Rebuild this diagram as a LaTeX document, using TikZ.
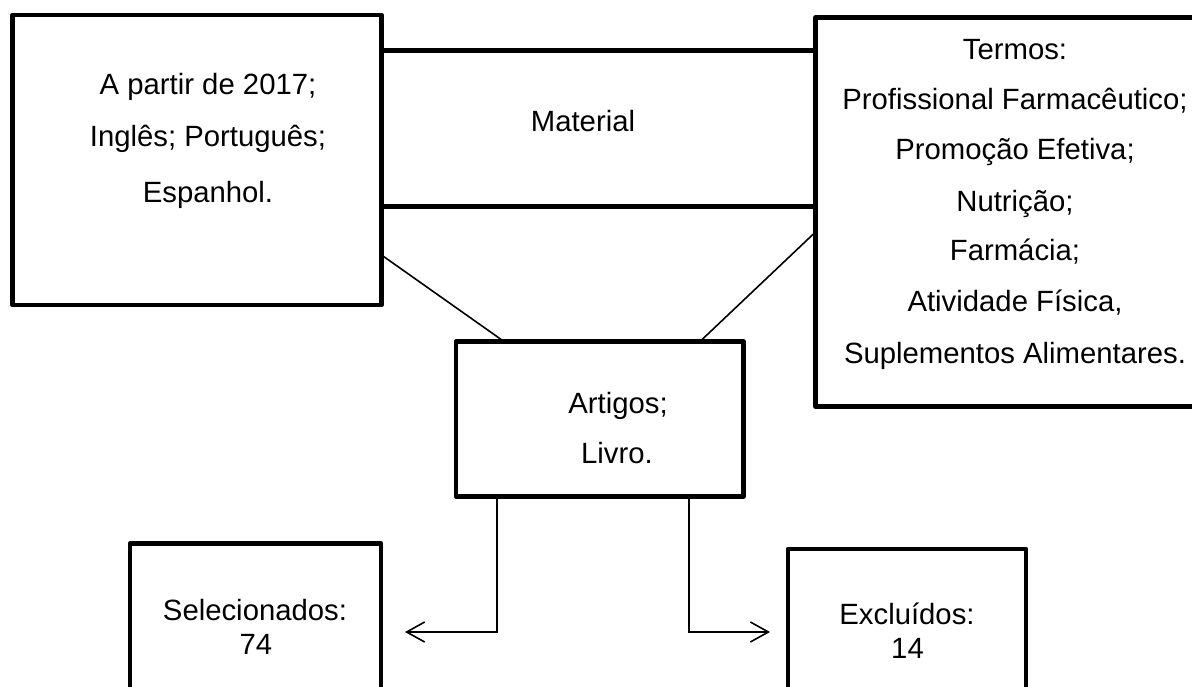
\documentclass[tikz,border=0pt]{standalone}
\usepackage{fontspec}
\setmainfont{Liberation Sans}
\usetikzlibrary{arrows.meta,calc}
\begin{document}
\begin{tikzpicture}[x=1pt,y=-1pt,
  box/.style={draw, line width=4.5pt, inner sep=0pt, outer sep=0pt, line join=round},
  txt/.style={anchor=base, inner sep=0pt, font=\fontsize{29.3}{34}\selectfont},
  thinline/.style={line width=1.6pt},
  conn/.style={line width=2pt, -{Straight Barb[length=18pt,width=20pt,line width=1.6pt]}}]
\useasboundingbox (0,0) rectangle (1192,687);
\clip (0,0) rectangle (1192,687);
\fill[white] (0,0) rectangle (1192,687);
% boxes
\node[box, minimum width=369pt, minimum height=290pt] (left) at (197,160) {};
\node[box, minimum width=434.5pt, minimum height=156pt] (mat) at (598.75,128.5) {};
\node[box, minimum width=444.5pt, minimum height=389pt] (right) at (1037.75,212) {};
\node[box, minimum width=287.5pt, minimum height=155pt] (art) at (599.75,419) {};
\node[box, minimum width=251pt, minimum height=176.5pt] (sel) at (255.5,631.75) {};
\node[box, minimum width=238pt, minimum height=171pt] (exc) at (907,634.5) {};
% texts
\node[txt] (l1) at (208,95) {A partir de 2017;};
\node[txt] (l2) at (208,147) {Inglês; Português;};
\node[txt] (l3) at (208,203) {Espanhol.};
\node[txt] (m1) at (583,132) {Material};
\node[txt] (r1) at (1015,60) {Termos:};
\node[txt] (r2) at (1015,110) {Profissional Farmacêutico;};
\node[txt] (r3) at (1015,160) {Promoção Efetiva;};
\node[txt] (r4) at (1015,211.5) {Nutrição;};
\node[txt] (r5) at (1015,261) {Farmácia;};
\node[txt] (r6) at (1015,312) {Atividade Física,};
\node[txt] (r7) at (1015,363) {Suplementos Alimentares.};
\node[txt] (a1) at (618,413) {Artigos;};
\node[txt] (a2) at (617,463) {Livro.};
\node[txt] (s1) at (255,620) {Selecionados:};
\node[txt] (s2) at (256,654) {74};
\node[txt] (e1) at (907,624) {Excluídos:};
\node[txt] (e2) at (907.5,658) {14};
% connectors
\draw[thinline] ($(left.south east)+(0,-50)$) -- ($(art.north west)+(48,0)$);
\draw[thinline] ($(right.north west)+(0,214.5)$) -- ($(art.north west)+(244,0)$);
\coordinate (selTip) at (405,632);
\coordinate (excTip) at (770,632);
\draw[conn] ($(art.south west)+(41,0)$) |- (selTip);
\draw[conn] ($(art.south west)+(233,0)$) |- (excTip);
\end{tikzpicture}
\end{document}
